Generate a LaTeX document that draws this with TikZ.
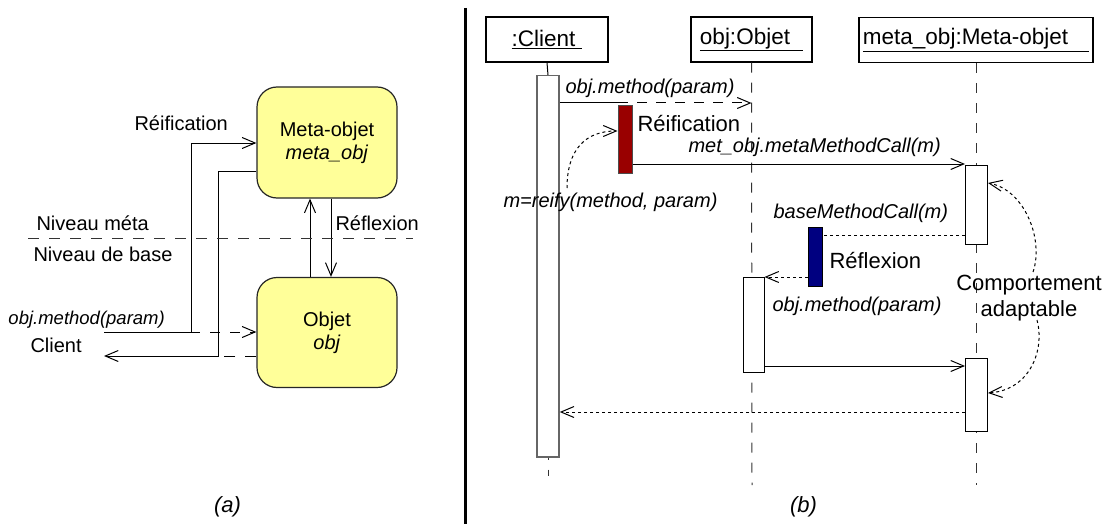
\documentclass[tikz,border=0pt]{standalone}
\usepackage{fontspec}
\setmainfont{Liberation Sans}
\usetikzlibrary{arrows.meta}
\definecolor{boxyellow}{RGB}{255,255,153}
\definecolor{reifred}{RGB}{153,0,0}
\definecolor{reflblue}{RGB}{0,0,128}
\begin{document}
\begin{tikzpicture}[x=1pt,y=-1pt, line width=1pt,
  >={Straight Barb[length=13pt,width=11pt]},
  lbl/.style={font=\fontsize{20}{24}\selectfont, inner sep=0pt, anchor=base west},
  ilbl/.style={lbl, font=\fontsize{20}{24}\selectfont\itshape},
  lblbig/.style={lbl, font=\fontsize{22}{26}\selectfont},
  caption/.style={font=\fontsize{22}{26}\selectfont\itshape, inner sep=0pt},
  ybox/.style={draw=black!85, fill=boxyellow, rounded corners=20pt, minimum width=140pt, minimum height=111pt, align=center, font=\fontsize{20}{23}\selectfont, line width=1.2pt},
  head/.style={draw, line width=1.4pt, fill=white, minimum height=45pt, inner sep=0pt, font=\fontsize{22.5}{26}\selectfont},
  act/.style={draw, fill=white, minimum width=22pt, inner sep=0pt, anchor=north},
  lifeline/.style={dash pattern=on 10pt off 10pt, black!80},
  dotl/.style={dash pattern=on 3pt off 3pt},
  dashl/.style={dash pattern=on 11pt off 10pt}]
\useasboundingbox (0,0) rectangle (1115,524);
% ---------------- (a) ----------------
\node[ybox] (meta) at (327,142.5) {Meta-objet\\\textit{meta\_obj}};
\node[ybox, minimum height=110pt] (objet) at (327,332.5) {Objet\\\textit{obj}};
\draw[->] ([xshift=-17pt]objet.north) -- ([xshift=-17pt]meta.south);
\draw[->] ([xshift=4pt]meta.south) -- ([xshift=4pt]objet.north);
\coordinate (cin) at (104,332);
\coordinate (cout) at (104,356);
\coordinate (jr) at (191,332);
\coordinate (jd) at (200,332);
\draw (cin) -- (jd);
\draw[dashl, dash pattern=on 10pt off 10pt, dash phase=10pt, ->] (jd) -- (objet.west |- jd);
\draw[->] (jr) -- (191,143) -- (meta.west |- 0,143);
\draw[->] (meta.west |- 0,171) -- (218,171) -- (218,356) -- (cout);
\draw[dashl] (objet.west |- cout) -- (218,356);
\coordinate (nl) at (28,238);
\coordinate (nr) at (413,238);
\draw[dashl, black!80] (nl) -- (nr);
\node[lbl] (lreif) at (134,131) {Réification};
\node[lbl] (lmeta) at (36,230) {Niveau méta};
\node[lbl] (lbase) at (33,261) {Niveau de base};
\node[lbl, font=\fontsize{18.5}{22}\selectfont\itshape] (lcall) at (8,324) {obj.method(param)};
\node[lbl] (lclient) at (30,352) {Client};
\node[lbl] (lrefl) at (335,230) {Réflexion};
\node[caption] (capa) at (227.5,507) {(a)};
% separator
\coordinate (st) at (465.5,8);
\coordinate (sb) at (465.5,524);
\draw[line width=3pt] (st) -- (sb);
% ---------------- (b) ----------------
\node[head, minimum width=122pt] (hc) at (547,39.5) {\underline{:Client\hspace{7pt}}};
\node[head, minimum width=121pt] (ho) at (751.5,39.5) {\underline{obj:Objet\hspace{13pt}}};
\node[head, minimum width=234pt] (hm) at (976,40) {\underline{meta\_obj:Meta-objet\hspace{21pt}}};
\coordinate (ob) at (752,485);
\coordinate (mb) at (976,485);
\draw[lifeline] (ho.south) -- (ob);
\draw[lifeline] (hm.south) -- (mb);
\draw (hc.south) -- (548,75);
\node[act, draw=black!60, line width=1.5pt, minimum height=381pt] (ac) at (548,75) {};
\draw[dash pattern=on 2pt off 10pt on 6pt off 30pt, black!80] (ac.south) -- (548,476);
\node[act, fill=reifred, draw=black!70, minimum width=14pt, minimum height=68pt] (red) at (625,105) {};
\node[act, minimum height=79pt] (am1) at (976.5,165) {};
\node[act, fill=reflblue, draw=black, minimum width=14pt, minimum height=59pt] (blue) at (815,227) {};
\node[act, minimum width=21pt, minimum height=95pt] (ao) at (753.5,277) {};
\node[act, minimum height=73pt] (am2) at (976.5,358) {};
% messages
\coordinate (m1a) at (628,103);
\draw (ac.east |- m1a) -- (m1a);
\draw[dash pattern=on 10pt off 9pt, dash phase=10pt, ->] (m1a) -- (ho.south |- m1a);
\draw[->] (red.east |- 0,164) -- (am1.west |- 0,164);
\coordinate (rs) at (567,188);
\draw[dotl, ->] (rs) .. controls (567,150) and (585,131) .. (red.west |- 0,131);
\draw[dotl] (am1.west |- 0,235) -- (blue.east |- 0,235);
\draw[dotl, ->] (blue.west |- 0,277) -- (ao.east |- 0,277);
\draw[->] (ao.east |- 0,366) -- (am2.west |- 0,366);
\draw[dotl, ->] (am2.west |- 0,412) -- (ac.east |- 0,412);
\node[ilbl] (t1) at (565,94) {obj.method(param)};
\node[lblbig] (t2) at (637,131.5) {Réification};
\node[ilbl] (t3) at (688,152) {met\_obj.metaMethodCall(m)};
\node[ilbl] (t4) at (503,207) {m=reify(method, param)};
\node[ilbl] (t5) at (773,218) {baseMethodCall(m)};
\node[lblbig] (t6) at (829,268) {Réflexion};
\node[ilbl] (t7) at (772,311) {obj.method(param)};
\node[font=\fontsize{22}{25.5}\selectfont, align=center, inner sep=0pt] (comp) at (1029,298) {Comportement\\adaptable};
\coordinate (cu) at (1033,272);
\coordinate (cd) at (1037,320);
\draw[dotl, ->] (cu) .. controls (1044,240) and (1025,190) .. (am1.east |- 0,183);
\draw[dotl, ->] (cd) .. controls (1045,350) and (1030,390) .. (am2.east |- 0,393);
\node[caption] (capb) at (803.5,507) {(b)};
\end{tikzpicture}
\end{document}
